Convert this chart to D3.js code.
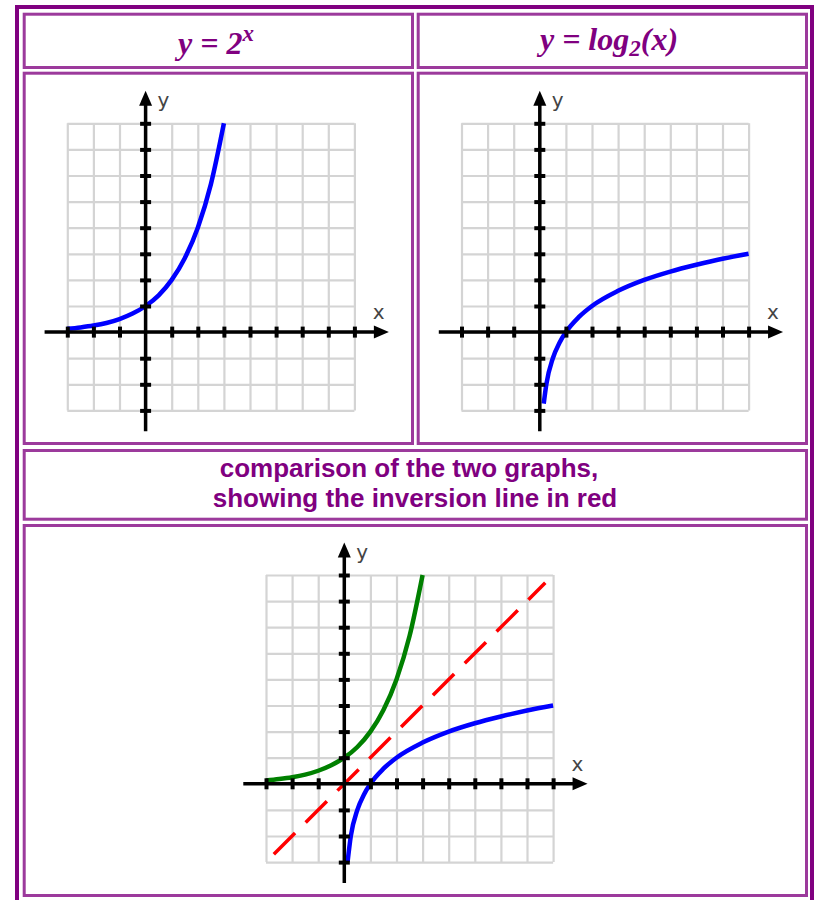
<!DOCTYPE html>
<html>
<head>
<meta charset="utf-8">
<script src="https://cdn.jsdelivr.net/npm/d3@7"></script>
<style>
  html, body { margin: 0; padding: 0; background: #fff; }
  svg { display: block; }
</style>
</head>
<body>
<div id="chart"></div>
<script>
// points
var expX = [-3, -2.5, -2, -1.5, -1, -0.5, 0, 0.5, 1, 1.5, 2, 2.5, 3];
var expY = [0.125, 0.18, 0.25, 0.35, 0.5, 0.71, 1, 1.41, 2, 2.83, 4, 5.66, 8];

var logTopX = [0.15, 0.25, 0.5, 0.75, 1, 1.5, 2, 3, 4, 5, 6, 7, 8];
var logTopY = [-2.74, -2, -1, -0.42, 0, 0.58, 1, 1.58, 2, 2.32, 2.58, 2.81, 3];

var logX = [0.125, 0.25, 0.5, 0.75, 1, 1.5, 2, 3, 4, 5, 6, 7, 8];
var logY = [-3, -2, -1, -0.42, 0, 0.58, 1, 1.58, 2, 2.32, 2.58, 2.81, 3];

var mirrorX = [-2.7, 7.7];
var mirrorY = [-2.7, 7.7];

var gridTicks = [-3, -2, -1, 0, 1, 2, 3, 4, 5, 6, 7, 8];
var axisTicks = [-3, -2, -1, 1, 2, 3, 4, 5, 6, 7, 8];

var captionLines = ["comparison of the two graphs,", "showing the inversion line in red"];

var W = 817, H = 900;
var unit = 26.1;
var purple = "#800080";

var svg = d3.select("#chart").append("svg")
  .attr("width", W)
  .attr("height", H);

svg.append("rect").attr("width", W).attr("height", H).attr("fill", "#fff");

// table frame
svg.append("rect")
  .attr("x", 17).attr("y", 7)
  .attr("width", 795).attr("height", 900)
  .attr("fill", "none")
  .attr("stroke", purple)
  .attr("stroke-width", 4);

var cells = [
  [24.2, 14.2, 388.3, 53.3],
  [418.2, 14.2, 388.3, 53.3],
  [24.2, 73.2, 388.3, 370.3],
  [418.2, 73.2, 388.3, 370.3],
  [24.2, 450.5, 782.3, 68.7],
  [24.2, 525.5, 782.3, 370]
];
svg.selectAll(".cell")
  .data(cells)
  .enter().append("rect")
  .attr("class", "cell")
  .attr("x", function(d) { return d[0]; })
  .attr("y", function(d) { return d[1]; })
  .attr("width", function(d) { return d[2]; })
  .attr("height", function(d) { return d[3]; })
  .attr("fill", "none")
  .attr("stroke", "#9c3a9c")
  .attr("stroke-width", 3);

// titles
var titleFont = "'Liberation Serif', 'Times New Roman', serif";
var t1 = svg.append("text")
  .attr("x", 216).attr("y", 54)
  .attr("text-anchor", "middle")
  .attr("font-family", titleFont)
  .attr("font-style", "italic")
  .attr("font-weight", "bold")
  .attr("font-size", 32)
  .attr("fill", purple);
t1.append("tspan").text("y = 2");
t1.append("tspan").attr("dy", -13).attr("font-size", 23).text("x");

var t2 = svg.append("text")
  .attr("x", 609).attr("y", 50)
  .attr("text-anchor", "middle")
  .attr("font-family", titleFont)
  .attr("font-style", "italic")
  .attr("font-weight", "bold")
  .attr("font-size", 32)
  .attr("fill", purple);
t2.append("tspan").text("y = log");
t2.append("tspan").attr("dy", 6).attr("font-size", 23).text("2");
t2.append("tspan").attr("dy", -6).text("(x)");

// caption
svg.selectAll(".caption")
  .data(captionLines)
  .enter().append("text")
  .attr("class", "caption")
  .attr("x", function(d, i) { return i === 0 ? 409 : 415; })
  .attr("y", function(d, i) { return 477 + i * 30; })
  .attr("text-anchor", "middle")
  .attr("font-family", "'Liberation Sans', Arial, sans-serif")
  .attr("font-weight", "bold")
  .attr("font-size", 26)
  .attr("fill", purple)
  .text(function(d) { return d; });

function zip(xs, ys) {
  return xs.map(function(v, i) { return [v, ys[i]]; });
}

function graph(left, top, series) {
  var size = unit * 11;
  var x = d3.scaleLinear().domain([-3, 8]).range([left, left + size]);
  var y = d3.scaleLinear().domain([-3, 8]).range([top + size, top]);
  var g = svg.append("g");

  // grid
  g.append("g")
    .attr("transform", "translate(0," + (top + size) + ")")
    .call(d3.axisBottom(x).tickValues(gridTicks).tickSize(-size).tickFormat(""))
    .call(function(s) { s.select(".domain").remove(); })
    .selectAll("line").attr("stroke", "#d4d4d4").attr("stroke-width", 2.2);
  g.append("g")
    .attr("transform", "translate(" + left + ",0)")
    .call(d3.axisLeft(y).tickValues(gridTicks).tickSize(-size).tickFormat(""))
    .call(function(s) { s.select(".domain").remove(); })
    .selectAll("line").attr("stroke", "#d4d4d4").attr("stroke-width", 2.2);

  // curves
  series.forEach(function(s) {
    var line = d3.line()
      .x(function(d) { return x(d[0]); })
      .y(function(d) { return y(d[1]); })
      .curve(s.dash ? d3.curveLinear : d3.curveMonotoneX);
    g.append("path")
      .datum(zip(s.xs, s.ys))
      .attr("d", line)
      .attr("fill", "none")
      .attr("stroke", s.color)
      .attr("stroke-width", s.dash ? 3.5 : 4.5)
      .attr("stroke-dasharray", s.dash || null);
  });

  // axes
  var ax = g.append("g");
  ax.append("line")
    .attr("x1", x(-3.87)).attr("x2", x(9.0))
    .attr("y1", y(0)).attr("y2", y(0))
    .attr("stroke", "#000").attr("stroke-width", 3.5);
  ax.append("path")
    .attr("d", "M" + x(9.32) + "," + y(0) + "L" + (x(9.32) - 15) + "," + (y(0) - 6.5) +
      "L" + (x(9.32) - 15) + "," + (y(0) + 6.5) + "Z")
    .attr("fill", "#000");
  ax.append("line")
    .attr("x1", x(0)).attr("x2", x(0))
    .attr("y1", y(-3.8)).attr("y2", y(8.9))
    .attr("stroke", "#000").attr("stroke-width", 3.5);
  ax.append("path")
    .attr("d", "M" + x(0) + "," + y(9.25) + "L" + (x(0) - 6.5) + "," + (y(9.25) + 15) +
      "L" + (x(0) + 6.5) + "," + (y(9.25) + 15) + "Z")
    .attr("fill", "#000");

  ax.append("g")
    .attr("transform", "translate(0," + (y(0) - 5.5) + ")")
    .call(d3.axisBottom(x).tickValues(axisTicks).tickSize(11).tickFormat(""))
    .call(function(s) { s.select(".domain").remove(); })
    .selectAll("line").attr("stroke", "#000").attr("stroke-width", 4);
  ax.append("g")
    .attr("transform", "translate(" + (x(0) + 5.5) + ",0)")
    .call(d3.axisLeft(y).tickValues(axisTicks).tickSize(11).tickFormat(""))
    .call(function(s) { s.select(".domain").remove(); })
    .selectAll("line").attr("stroke", "#000").attr("stroke-width", 4);

  g.append("text")
    .attr("x", x(0) + 233).attr("y", y(0) - 13)
    .attr("text-anchor", "middle")
    .attr("font-family", "'DejaVu Sans', Verdana, sans-serif")
    .attr("font-size", 20)
    .attr("fill", "#444")
    .text("x");
  g.append("text")
    .attr("x", x(0) + 12).attr("y", y(0) - 225)
    .attr("font-family", "'DejaVu Sans', Verdana, sans-serif")
    .attr("font-size", 20)
    .attr("fill", "#444")
    .text("y");
}

graph(67.3, 123.3, [
  { xs: expX, ys: expY, color: "#0000ff" }
]);
graph(461.5, 123.3, [
  { xs: logTopX, ys: logTopY, color: "#0000ff" }
]);
graph(266, 575, [
  { xs: mirrorX, ys: mirrorY, color: "#ff0000", dash: "30,15" },
  { xs: expX, ys: expY, color: "#008000" },
  { xs: logX, ys: logY, color: "#0000ff" }
]);
</script>
</body>
</html>
